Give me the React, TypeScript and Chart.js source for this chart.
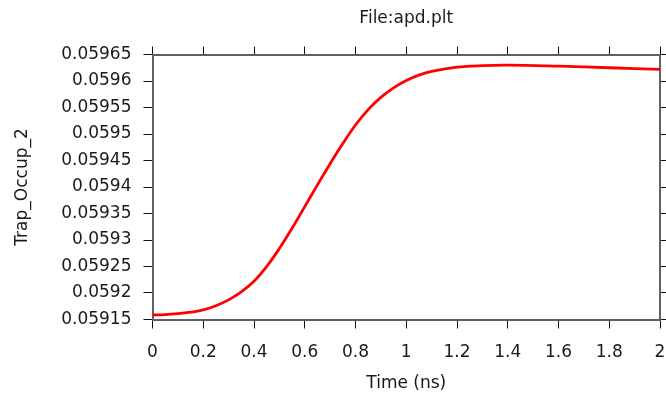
import { useEffect, useRef } from 'react';
import { Chart, registerables } from 'chart.js';

Chart.register(...registerables);

const chartTitle = 'File:apd.plt';
const xTitle = 'Time (ns)';
const yTitle = 'Trap_Occup_2';

const timeNs = [
  0, 0.05, 0.1, 0.15, 0.2, 0.25, 0.3, 0.35, 0.4, 0.45, 0.5, 0.55, 0.6, 0.65, 0.7, 0.75, 0.8, 0.85, 0.9, 0.95,
  1.0, 1.05, 1.1, 1.2, 1.3, 1.4, 1.6, 1.8, 2.0,
];
const trapOccup2 = [
  0.0591585, 0.0591592, 0.059161, 0.0591638, 0.059168, 0.059176, 0.059187, 0.059202, 0.059222, 0.05925,
  0.059284, 0.059322, 0.059363, 0.059404, 0.059444, 0.059482, 0.059517, 0.059546, 0.059569, 0.059587,
  0.059601, 0.059611, 0.059618, 0.059626, 0.059629, 0.05963, 0.059628, 0.059625, 0.059622,
];

const xTickValues = [0, 0.2, 0.4, 0.6, 0.8, 1, 1.2, 1.4, 1.6, 1.8, 2];
const yTickValues = [0.05915, 0.0592, 0.05925, 0.0593, 0.05935, 0.0594, 0.05945, 0.0595, 0.05955, 0.0596, 0.05965];

const FONT = 'DejaVu Sans';
const TEXT = '#1a1a1a';
const AXIS = '#606060';

export default function App() {
  const ref = useRef<HTMLCanvasElement | null>(null);

  useEffect(() => {
    document.body.style.margin = '0';
    const canvas = ref.current;
    if (!canvas) return;

    const setX = (s: any) => { s.ticks = xTickValues.map((v) => ({ value: v })); };
    const setY = (s: any) => { s.ticks = yTickValues.map((v) => ({ value: v })); };
    const noPad = (s: any) => { s.paddingLeft = 0; s.paddingRight = 0; s.paddingTop = 0; s.paddingBottom = 0; };

    const tickGrid = (len: number) => ({
      drawOnChartArea: false,
      drawTicks: true,
      tickLength: len,
      tickColor: '#111',
      lineWidth: 1,
    });
    const border = { display: true, color: AXIS, width: 2 };

    const chart = new Chart(canvas, {
      type: 'line',
      data: {
        datasets: [
          {
            data: timeNs.map((t, i) => ({ x: t, y: trapOccup2[i] })),
            borderColor: '#ff0000',
            borderWidth: 2.8,
            pointRadius: 0,
            fill: false,
            tension: 0.4,
            xAxisID: 'x',
            yAxisID: 'y',
          },
        ],
      },
      options: {
        responsive: false,
        animation: false,
        layout: { padding: 0 },
        plugins: {
          legend: { display: false },
          tooltip: { enabled: false },
          title: {
            display: true,
            text: chartTitle,
            fullSize: false,
            color: TEXT,
            font: { family: FONT, size: 17, weight: 'normal' },
            padding: { top: 8.8, bottom: 17.3 },
          },
        },
        scales: {
          x: {
            type: 'linear',
            axis: 'x',
            position: 'bottom',
            min: 0,
            max: 2,
            afterBuildTicks: setX,
            afterFit: (s: any) => { s.height = 77.5; noPad(s); },
            grid: tickGrid(9),
            border,
            ticks: {
              color: TEXT,
              font: { family: FONT, size: 17 },
              padding: 14,
              maxRotation: 0,
              autoSkip: false,
              callback: (v: any) => String(v),
            },
            title: {
              display: true,
              text: xTitle,
              color: TEXT,
              font: { family: FONT, size: 17 },
              padding: { top: 0, bottom: 3 },
            },
          },
          x2: {
            type: 'linear',
            axis: 'x',
            position: 'top',
            min: 0,
            max: 2,
            afterBuildTicks: setX,
            afterFit: noPad,
            grid: tickGrid(8),
            border,
            ticks: { display: false },
          },
          y: {
            type: 'linear',
            axis: 'y',
            position: 'left',
            min: 0.05915,
            max: 0.05965,
            afterBuildTicks: setY,
            afterFit: (s: any) => { s.width = 152.5; noPad(s); },
            grid: tickGrid(9),
            border,
            ticks: {
              color: TEXT,
              font: { family: FONT, size: 17 },
              padding: 12,
              autoSkip: false,
              callback: (v: any) => String(v),
            },
            title: {
              display: true,
              text: yTitle,
              color: TEXT,
              font: { family: FONT, size: 17 },
              padding: { top: 12, bottom: 0 },
            },
          },
          y2: {
            type: 'linear',
            axis: 'y',
            position: 'right',
            min: 0.05915,
            max: 0.05965,
            afterBuildTicks: setY,
            afterFit: noPad,
            grid: tickGrid(6),
            border,
            ticks: { display: false },
          },
        },
      },
    } as any);

    return () => chart.destroy();
  }, []);

  return (
    <div style={{ width: 666, height: 397 }}>
      <canvas ref={ref} width={666} height={397} style={{ display: 'block' }} />
    </div>
  );
}
